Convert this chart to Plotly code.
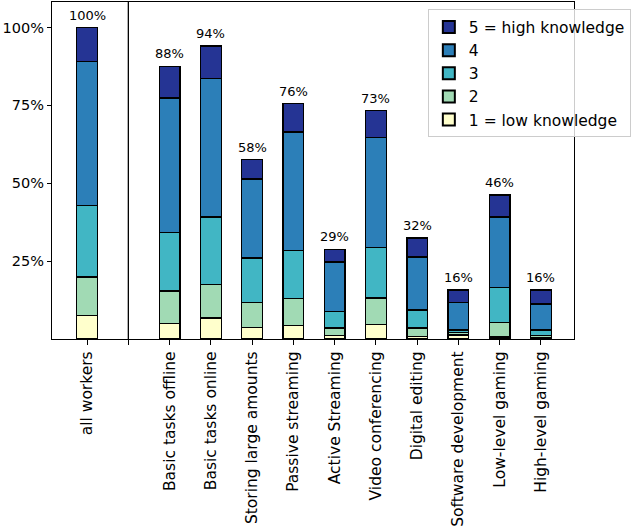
import plotly.graph_objects as go

# categories (position 1 is an empty slot for the divider line)
categories = [
    "all workers", "",
    "Basic tasks offline", "Basic tasks online", "Storing large amounts",
    "Passive streaming", "Active Streaming", "Video conferencing",
    "Digital editing", "Software development", "Low-level gaming",
    "High-level gaming",
]
positions = [0, 2, 3, 4, 5, 6, 7, 8, 9, 10, 11]

# share of workers (%) per knowledge level, one value per bar
level1 = [7.6, 5.0, 6.7, 3.8, 4.4, 1.2, 4.7, 0.8, 1.3, 0.6, 0.5]
level2 = [12.3, 10.4, 10.8, 7.9, 8.5, 2.3, 8.5, 2.7, 0.7, 4.6, 0.6]
level3 = [23.0, 18.8, 21.7, 14.3, 15.6, 5.3, 16.2, 5.8, 0.9, 11.3, 1.8]
level4 = [46.1, 43.2, 44.5, 25.4, 38.0, 15.9, 35.2, 17.0, 8.8, 22.7, 8.3]
level5 = [11.0, 10.2, 10.4, 6.2, 9.1, 4.1, 8.7, 6.1, 4.0, 7.0, 4.5]

levels = [
    ("1 = low knowledge", level1, "#ffffcc"),
    ("2", level2, "#a1dab4"),
    ("3", level3, "#41b6c4"),
    ("4", level4, "#2c7fb8"),
    ("5 = high knowledge", level5, "#253494"),
]

font = "DejaVu Sans"

fig = go.Figure()
for name, vals, color in levels:
    fig.add_trace(
        go.Bar(
            x=positions,
            y=vals,
            name=name,
            width=0.5,
            marker=dict(color=color, line=dict(color="black", width=1.3)),
        )
    )

# total labels above each bar
totals = [sum(v) for v in zip(level1, level2, level3, level4, level5)]
for xpos, tot in zip(positions, totals):
    fig.add_annotation(
        x=xpos, y=tot, text=f"{round(tot)}%", showarrow=False,
        yanchor="bottom", yshift=3, font=dict(size=13, color="black"),
    )

# divider between "all workers" and the tasks
fig.add_shape(
    type="line", x0=1, x1=1, y0=0, y1=1, yref="paper",
    line=dict(color="black", width=1.3),
)

fig.update_layout(
    barmode="stack",
    width=640,
    height=529,
    margin=dict(l=52, r=66, t=2, b=190),
    plot_bgcolor="white",
    paper_bgcolor="white",
    font=dict(family=font, size=15.5, color="black"),
    showlegend=True,
    legend=dict(
        x=0.72, y=0.978, xanchor="left", yanchor="top",
        traceorder="reversed",
        bgcolor="rgba(255,255,255,0.8)",
        bordercolor="#cccccc", borderwidth=1,
        font=dict(size=15.5),
        itemsizing="constant",
    ),
    xaxis=dict(
        range=[-0.85, 11.8],
        tickvals=list(range(12)),
        ticktext=categories,
        tickangle=-90,
        ticks="outside", ticklen=5, tickcolor="black",
        showline=True, linecolor="black", linewidth=1.3, mirror=True,
        showgrid=False, zeroline=False, automargin=False,
    ),
    yaxis=dict(
        range=[0, 108.2],
        tickvals=[25, 50, 75, 100],
        ticktext=["25%", "50%", "75%", "100%"],
        tickfont=dict(size=14.5),
        ticks="outside", ticklen=4, tickcolor="black",
        showline=True, linecolor="black", linewidth=1.3, mirror=True,
        showgrid=False, zeroline=False, automargin=False,
    ),
)

# drop the default page margin so the figure sits at the window corner
fig.write_html(
    "out.html",
    config={"displayModeBar": False},
    post_script="document.body.style.margin='0';",
)
